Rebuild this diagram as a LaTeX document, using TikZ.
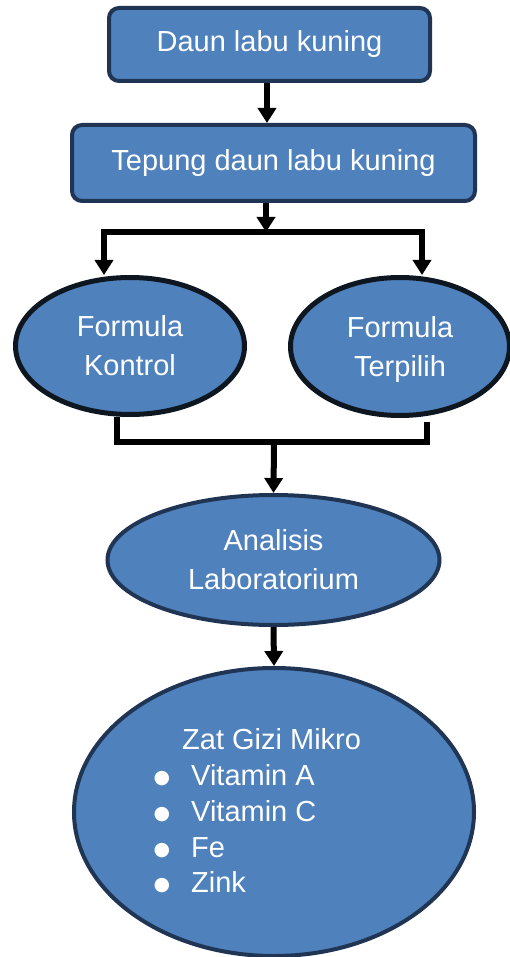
\documentclass[tikz,border=0pt]{standalone}
\usepackage{fontspec}
\setmainfont{Liberation Sans}
\newfontfamily\symfont{DejaVu Sans}
\usetikzlibrary{arrows.meta,shapes.geometric}
\definecolor{fillblue}{HTML}{4F81BD}
\definecolor{navy}{HTML}{1F3553}
\definecolor{darkedge}{HTML}{0E1620}
\newcommand\mybul{\makebox[39pt][l]{\hspace{1.5pt}\raisebox{2pt}{\symfont\fontsize{19}{19}\selectfont ●}}}
\begin{document}
\begin{tikzpicture}[x=1pt,y=-1pt,
  boxnode/.style={rectangle, rounded corners=10pt, draw=navy, line width=4pt, fill=fillblue,
    text=white, font=\fontsize{29}{39}\selectfont, inner sep=0pt},
  ellnode/.style={ellipse, draw=navy, line width=4pt, fill=fillblue, text=white,
    align=center, font=\fontsize{29}{39}\selectfont, inner sep=0pt},
  conn/.style={line width=6pt, black},
  arr/.style={conn, -{Triangle[width=18pt,length=15pt]}},
]
\useasboundingbox (0,0) rectangle (509,957);
% boxes
\node[boxnode, minimum width=321pt, minimum height=73pt] (box1) at (269.5,44.5) {Daun labu kuning};
\node[boxnode, minimum width=403pt, minimum height=76pt] (box2) at (273.5,163) {Tepung daun labu kuning};
% ellipses
\node[ellnode, draw=darkedge, line width=5pt, minimum width=229pt, minimum height=137pt] (e1) at (130,346) {Formula\\Kontrol};
\node[ellnode, draw=darkedge, line width=5pt, minimum width=219pt, minimum height=138pt, text depth=0pt] (e2) at (400,346.5) {Formula\\Terpilih};
\node[ellnode, minimum width=332pt, minimum height=130pt] (e3) at (273.5,560) {Analisis\\Laboratorium};
\node[ellnode, minimum width=400pt, minimum height=288pt] (e4) at (274,812) {};
\node[text=white, align=left, anchor=west, inner sep=0pt,
  font=\fontsize{29}{35.8}\selectfont] (e4txt) at (152,811)
  {\hspace{30pt}Zat Gizi Mikro\\\mybul Vitamin A\\\mybul Vitamin C\\\mybul Fe\\\mybul Zink};
% coordinates of junctions
\coordinate (split) at (266,232);
\coordinate (hl) at (104,232);
\coordinate (hr) at (422,232);
\coordinate (bl) at (117,442);
\coordinate (br) at (427,442);
\coordinate (merge) at (274,442);
% connectors
\draw[arr] ([xshift=-2.5pt]box1.south) -- ([xshift=-2.5pt]box1.south |- box2.north);
\draw[arr] (split |- box2.south) -- (split);
\draw[conn, line cap=rect] (hl) -- (hr);
\draw[arr] (hl) -- (hl |- e1.north);
\draw[arr] (hr) -- (hr |- e2.north);
\draw[conn] (bl |- e1.south) -- (bl) -- (br) -- ([yshift=-4pt]br |- e2.south);
\draw[arr] (merge) -- (e3.north);
\draw[arr] (e3.south) -- (e4.north);
\end{tikzpicture}
\end{document}
